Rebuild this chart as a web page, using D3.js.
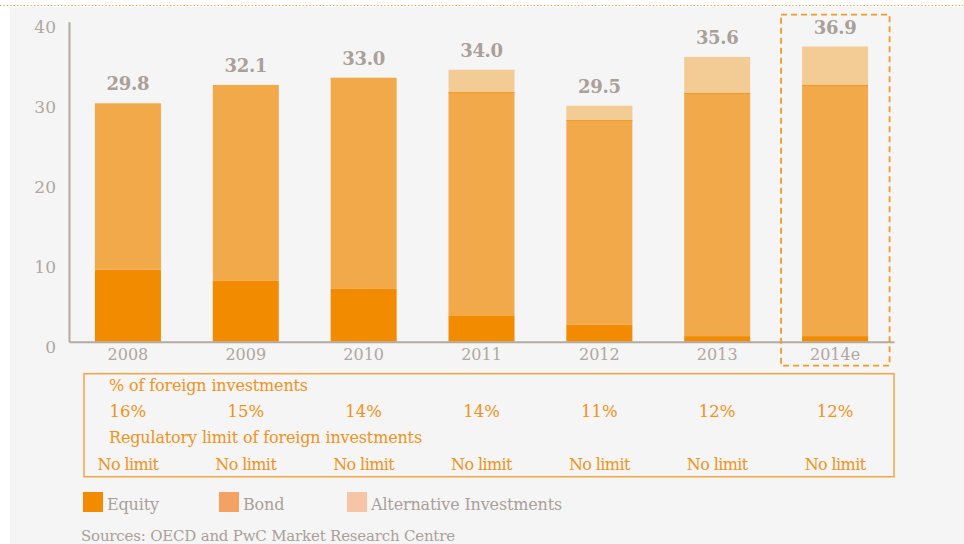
<!DOCTYPE html>
<html>
<head>
<meta charset="utf-8">
<script src="https://cdn.jsdelivr.net/npm/d3@7"></script>
<style>
  body { margin: 0; background: #fff; }
  svg { display: block; }
  text { font-family: Georgia, "DejaVu Serif", "Liberation Serif", serif; }
</style>
</head>
<body>
<div id="chart"></div>
<script>
const years = ['2008', '2009', '2010', '2011', '2012', '2013', '2014e']
const equity = [9.0, 7.6, 6.6, 3.3, 2.1, 0.7, 0.7]
const bond = [20.8, 24.5, 26.4, 27.9, 25.6, 30.4, 31.4]
const alternative = [0, 0, 0, 2.8, 1.8, 4.5, 4.8]
const totals = ['29.8', '32.1', '33.0', '34.0', '29.5', '35.6', '36.9']
const foreignShare = ['16%', '15%', '14%', '14%', '11%', '12%', '12%']
const regLimit = ['No limit', 'No limit', 'No limit', 'No limit', 'No limit', 'No limit', 'No limit']
const yTicks = [0, 10, 20, 30, 40]
const seriesNames = ['Equity', 'Bond', 'Alternative Investments']

const width = 964, height = 544
const barColors = ['#f28b00', '#f2a94a', '#f3cb94']
const legendColors = ['#f28b00', '#f4a263', '#f7c5a6']
const grey = '#aaa09a'
const orange = '#f29220'

const svg = d3.select('#chart').append('svg')
  .attr('width', width)
  .attr('height', height)

// panel background + dotted rule on top
svg.append('rect').attr('x', 10).attr('y', 7).attr('width', width - 10).attr('height', height - 7).attr('fill', '#f5f5f5')
svg.append('line').attr('x1', 0).attr('x2', width).attr('y1', 5.5).attr('y2', 5.5)
  .attr('stroke', '#f29a30').attr('stroke-width', 1.2).attr('stroke-dasharray', '1.2,2.2')

const x = d3.scaleBand().domain(years).range([69, 894]).paddingInner(0.44).paddingOuter(0.22)
const y = d3.scaleLinear().domain([0, 40]).range([341.7, 21.7])

const rows = years.map((yr, i) => ({ year: yr, Equity: equity[i], Bond: bond[i], Alt: alternative[i] }))
const stack = d3.stack().keys(['Equity', 'Bond', 'Alt'])(rows)

// bars
svg.append('g').selectAll('g').data(stack).join('g')
  .attr('fill', (d, i) => barColors[i])
  .selectAll('rect').data(d => d).join('rect')
  .attr('x', d => x(d.data.year))
  .attr('width', x.bandwidth())
  .attr('y', d => y(d[1]))
  .attr('height', d => y(d[0]) - y(d[1]))

// thin line between bond and alternative where there is one
svg.append('g').selectAll('line').data(stack[1].filter(d => d.data.Alt > 0)).join('line')
  .attr('x1', d => x(d.data.year)).attr('x2', d => x(d.data.year) + x.bandwidth())
  .attr('y1', d => y(d[1]) + 0.5).attr('y2', d => y(d[1]) + 0.5)
  .attr('stroke', '#f09a2c').attr('stroke-width', 1)

// total labels
svg.append('g').selectAll('text').data(stack[2]).join('text')
  .attr('x', d => x(d.data.year) + x.bandwidth() / 2)
  .attr('y', d => y(d[1]) - 13)
  .attr('text-anchor', 'middle')
  .attr('font-size', 18).attr('font-weight', 'bold').attr('fill', grey)
  .attr('letter-spacing', -0.3)
  .text((d, i) => totals[i])

// axes
const yAxis = svg.append('g').attr('transform', 'translate(69,0)')
  .call(d3.axisLeft(y).tickValues(yTicks).tickSize(0).tickPadding(13))
yAxis.select('.domain').attr('stroke', '#b4aaa3').attr('stroke-width', 2)
yAxis.selectAll('text').attr('font-size', 17).attr('fill', '#b0a7a1').attr('dy', '0.62em')
  .attr('font-family', 'Georgia, "DejaVu Serif", serif')

const xAxis = svg.append('g').attr('transform', 'translate(0,341.7)')
  .call(d3.axisBottom(x).tickSize(0).tickPadding(7).tickSizeOuter(0))
xAxis.select('.domain').attr('stroke', '#b4aaa3').attr('stroke-width', 2)
xAxis.selectAll('text').attr('font-size', 16).attr('fill', '#b0a7a1')
  .attr('font-family', 'Georgia, "DejaVu Serif", serif')

// dashed highlight round the estimate
const last = years[years.length - 1]
svg.append('rect')
  .attr('x', x(last) - 21).attr('y', 14.7)
  .attr('width', x.bandwidth() + 42.5).attr('height', 351)
  .attr('fill', 'none').attr('stroke', '#f39a25').attr('stroke-width', 1.8)
  .attr('stroke-dasharray', '6,4')

// table of foreign investments
svg.append('rect').attr('x', 84).attr('y', 373.7).attr('width', 810).attr('height', 103)
  .attr('fill', 'none').attr('stroke', '#f3a443').attr('stroke-width', 1.5)
svg.append('text').attr('x', 109).attr('y', 391).attr('font-size', 16).attr('fill', orange)
  .attr('letter-spacing', -0.15)
  .text('% of foreign investments')
svg.append('g').selectAll('text').data(foreignShare).join('text')
  .attr('x', (d, i) => x(years[i]) + x.bandwidth() / 2).attr('y', 417)
  .attr('text-anchor', 'middle').attr('font-size', 16.5).attr('fill', orange)
  .text(d => d)
svg.append('text').attr('x', 109).attr('y', 443).attr('font-size', 16).attr('fill', orange)
  .attr('letter-spacing', -0.15)
  .text('Regulatory limit of foreign investments')
svg.append('g').selectAll('text').data(regLimit).join('text')
  .attr('x', (d, i) => x(years[i]) + x.bandwidth() / 2).attr('y', 470)
  .attr('text-anchor', 'middle').attr('font-size', 16).attr('fill', orange)
  .attr('letter-spacing', -0.6)
  .text(d => d)

// legend
const legendX = [83, 219, 347]
const lg = svg.append('g').selectAll('g').data(seriesNames).join('g')
  .attr('transform', (d, i) => `translate(${legendX[i]},492)`)
lg.append('rect').attr('width', 20).attr('height', 20).attr('fill', (d, i) => legendColors[i])
lg.append('text').attr('x', 24).attr('y', 17.5).attr('font-size', 16).attr('fill', grey)
  .attr('letter-spacing', -0.15).text(d => d)

svg.append('text').attr('x', 81).attr('y', 541).attr('font-size', 15).attr('fill', grey)
  .attr('letter-spacing', -0.2)
  .text('Sources: OECD and PwC Market Research Centre')
</script>
</body>
</html>
